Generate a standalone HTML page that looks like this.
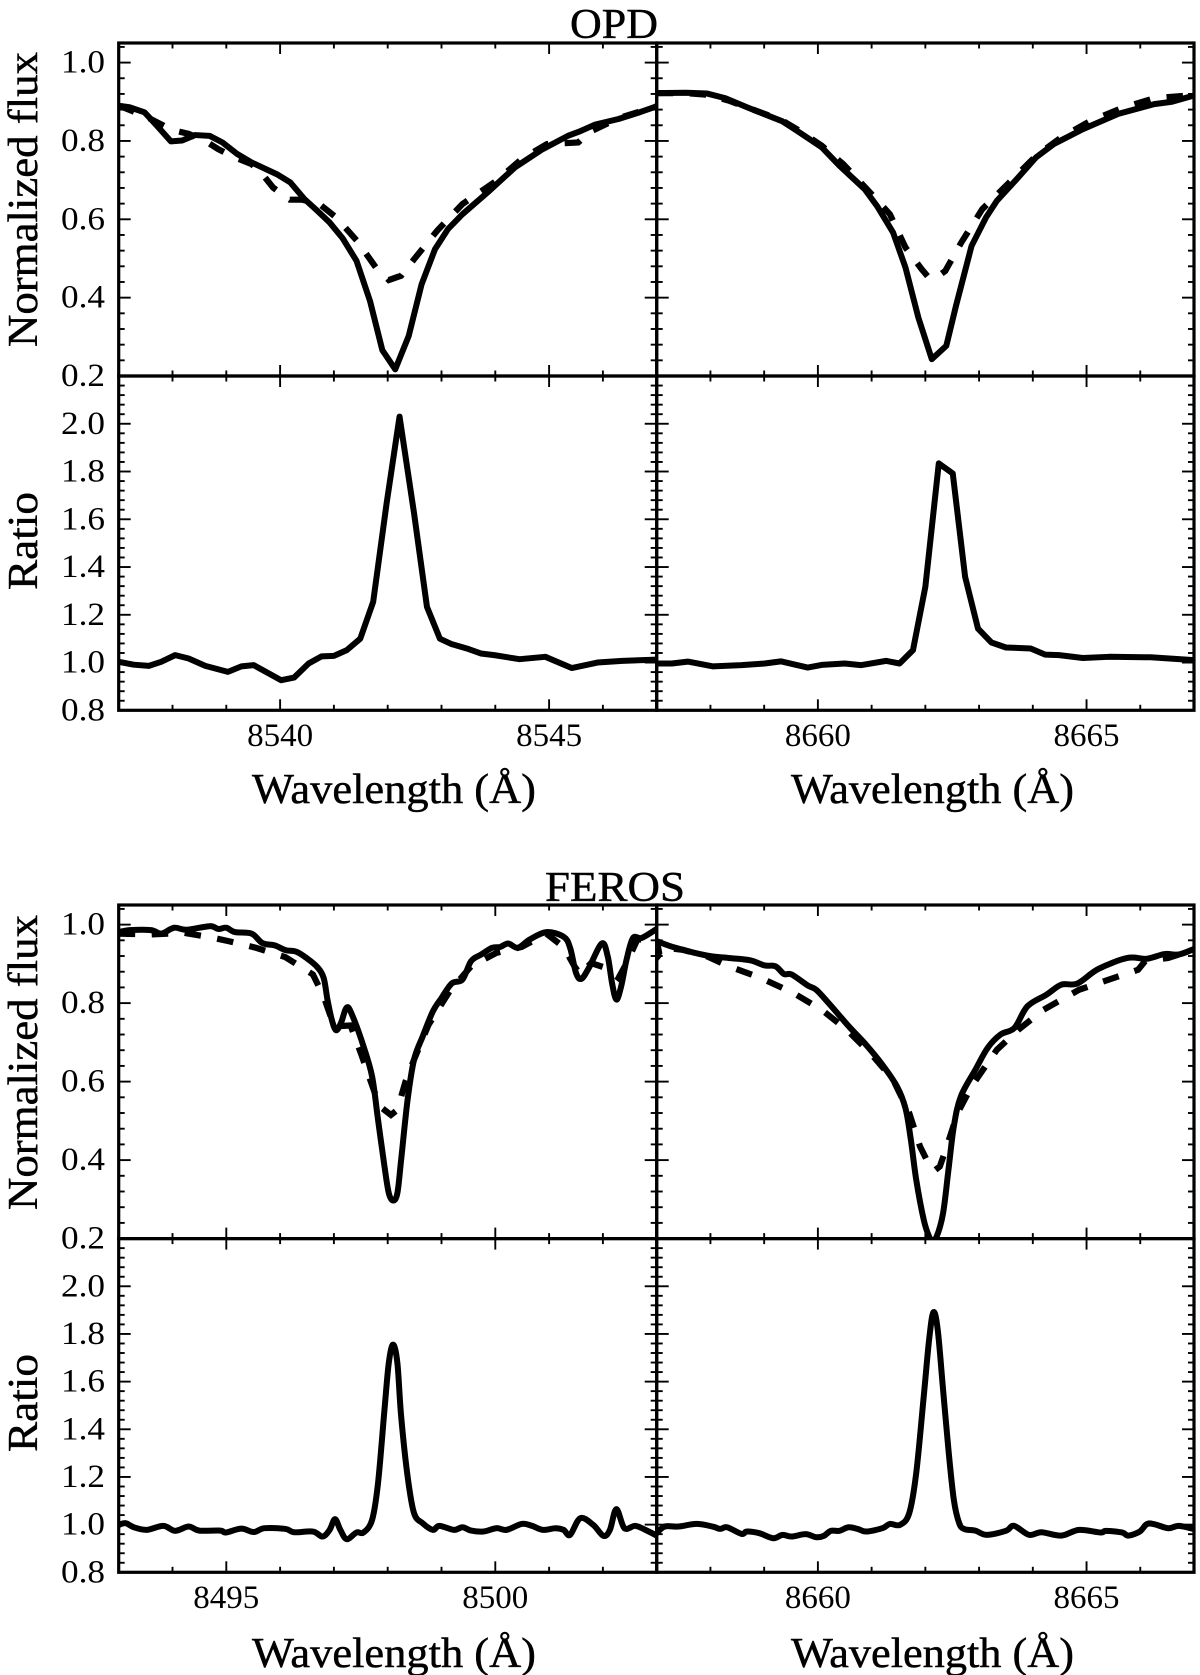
<!DOCTYPE html>
<html lang="en">
<head>
<meta charset="utf-8">
<title>OPD and FEROS line profiles</title>
<style>
  html, body { margin: 0; padding: 0; background: #fff; }
  svg { display: block; }
  text { font-family: "Liberation Serif", "DejaVu Serif", serif; fill: #000; }
  .axis-title { stroke: #000; stroke-width: 0.45px; }
</style>
</head>
<body>
<svg id="figure" xmlns="http://www.w3.org/2000/svg" width="1200" height="1675" viewBox="0 0 1200 1675">
  <rect x="0" y="0" width="1200" height="1675" fill="#fff"/>
  <defs id="clip-defs"></defs>
  <g id="panels"></g>

  <text class="axis-title" x="570" y="38" font-size="42" textLength="88" lengthAdjust="spacingAndGlyphs">OPD</text>
  <text class="axis-title" x="545" y="901" font-size="42" textLength="140" lengthAdjust="spacingAndGlyphs">FEROS</text>

  <text class="axis-title" transform="translate(37,347) rotate(-90)" font-size="42" textLength="295" lengthAdjust="spacingAndGlyphs">Normalized flux</text>
  <text class="axis-title" transform="translate(37,590) rotate(-90)" font-size="42" textLength="98" lengthAdjust="spacingAndGlyphs">Ratio</text>
  <text class="axis-title" transform="translate(37,1210) rotate(-90)" font-size="42" textLength="295" lengthAdjust="spacingAndGlyphs">Normalized flux</text>
  <text class="axis-title" transform="translate(37,1452) rotate(-90)" font-size="42" textLength="98" lengthAdjust="spacingAndGlyphs">Ratio</text>

  <text class="axis-title" x="252" y="803" font-size="42" textLength="284" lengthAdjust="spacingAndGlyphs">Wavelength (Å)</text>
  <text class="axis-title" x="791" y="803" font-size="42" textLength="283" lengthAdjust="spacingAndGlyphs">Wavelength (Å)</text>
  <text class="axis-title" x="252" y="1667" font-size="42" textLength="284" lengthAdjust="spacingAndGlyphs">Wavelength (Å)</text>
  <text class="axis-title" x="791" y="1667" font-size="42" textLength="283" lengthAdjust="spacingAndGlyphs">Wavelength (Å)</text>
</svg>

<script>
// ---------- Tick values and labels ----------
const fluxTicks = [0.2, 0.4, 0.6, 0.8, 1.0];
const fluxTickLabels = ['0.2', '0.4', '0.6', '0.8', '1.0'];
const ratioTicks = [0.8, 1.0, 1.2, 1.4, 1.6, 1.8, 2.0];
const ratioTickLabels = ['0.8', '1.0', '1.2', '1.4', '1.6', '1.8', '2.0'];
const opdLeftTicks = [8540, 8545];
const opdLeftTickLabels = ['8540', '8545'];
const redTicks = [8660, 8665];
const redTickLabels = ['8660', '8665'];
const ferosLeftTicks = [8495, 8500];
const ferosLeftTickLabels = ['8495', '8500'];

// ---------- OPD, 8542 line ----------
const opd8542Wave = [8537,8537.2,8537.48,8537.71,8537.97,8538.18,8538.42,8538.69,8538.93,8539.2,8539.47,8539.94,8540.19,8540.45,8540.69,8540.92,8541.16,8541.42,8541.67,8541.9,8542.14,8542.39,8542.63,8542.88,8543.12,8543.39,8543.86,8544.37,8544.88,8545.35,8545.58,8545.86,8546.29,8546.68,8546.99];
const opd8542Observed = [0.890,0.886,0.873,0.839,0.799,0.801,0.815,0.813,0.796,0.767,0.745,0.715,0.694,0.652,0.622,0.592,0.552,0.494,0.392,0.266,0.217,0.302,0.434,0.524,0.575,0.613,0.669,0.733,0.779,0.813,0.825,0.842,0.856,0.873,0.888];
const opd8542ModelWave = [8537,8537.48,8537.99,8538.3,8538.61,8538.85,8539.16,8539.47,8539.67,8539.87,8540.18,8540.41,8540.73,8541.04,8541.43,8541.78,8542.02,8542.25,8542.49,8542.92,8543.39,8544.02,8544.49,8544.96,8545.54,8545.74,8546.29,8546.99];
const opd8542Model = [0.890,0.864,0.828,0.818,0.800,0.779,0.758,0.741,0.715,0.681,0.650,0.650,0.639,0.605,0.545,0.477,0.445,0.456,0.498,0.571,0.639,0.698,0.754,0.792,0.796,0.822,0.858,0.888];
const opd8542RatioWave = [8537,8537.28,8537.56,8537.79,8538.05,8538.3,8538.61,8539.03,8539.28,8539.51,8540.02,8540.26,8540.53,8540.77,8541,8541.24,8541.49,8541.73,8541.98,8542.22,8542.49,8542.73,8542.97,8543.19,8543.47,8543.73,8543.98,8544.45,8544.93,8545.42,8545.9,8546.36,8547];
const opd8542Ratio = [1.003,0.991,0.986,1.003,1.031,1.017,0.986,0.961,0.984,0.989,0.926,0.937,0.996,1.026,1.028,1.052,1.100,1.254,1.667,2.030,1.625,1.233,1.100,1.077,1.059,1.038,1.031,1.014,1.024,0.977,1.000,1.007,1.012];

// ---------- OPD, 8662 line ----------
const opd8662Wave = [8657,8657.55,8657.94,8658.28,8658.68,8659.34,8659.61,8660.07,8660.4,8660.87,8661.1,8661.4,8661.63,8661.87,8662.12,8662.39,8662.57,8662.86,8663.13,8663.33,8663.73,8664.06,8664.39,8664.93,8665.59,8666.26,8666.59,8667];
const opd8662Observed = [0.922,0.923,0.921,0.909,0.886,0.850,0.826,0.784,0.737,0.677,0.634,0.566,0.477,0.349,0.243,0.277,0.379,0.532,0.605,0.647,0.707,0.758,0.792,0.830,0.869,0.894,0.900,0.916];
const opd8662ModelWave = [8657,8657.55,8657.94,8658.34,8659.34,8659.61,8660.07,8660.47,8660.94,8661.34,8661.63,8661.93,8662.07,8662.2,8662.37,8662.67,8663.06,8663.66,8664.06,8664.53,8665.06,8665.66,8666.26,8667];
const opd8662Model = [0.922,0.922,0.918,0.903,0.852,0.830,0.788,0.741,0.673,0.613,0.528,0.473,0.450,0.451,0.468,0.541,0.626,0.707,0.762,0.809,0.850,0.884,0.909,0.917];
const opd8662RatioWave = [8657,8657.28,8657.58,8658.04,8658.58,8659.01,8659.31,8659.81,8660.07,8660.5,8660.8,8661.27,8661.52,8661.77,8662,8662.25,8662.51,8662.74,8662.98,8663.23,8663.5,8663.96,8664.23,8664.49,8664.93,8665.42,8666.19,8667];
const opd8662Ratio = [0.996,0.996,1.004,0.984,0.989,0.996,1.005,0.979,0.990,0.996,0.989,1.007,0.996,1.052,1.317,1.834,1.792,1.359,1.142,1.084,1.063,1.059,1.033,1.031,1.019,1.024,1.022,1.010];

// ---------- FEROS, 8498 line ----------
const feros8498Wave = [8493,8493.2,8493.6,8493.79,8494.03,8494.26,8494.69,8494.85,8495,8495.16,8495.47,8495.67,8495.9,8496.1,8496.3,8496.49,8496.69,8496.81,8496.88,8496.96,8497.04,8497.13,8497.24,8497.35,8497.55,8497.71,8497.82,8497.94,8498.02,8498.1,8498.18,8498.25,8498.37,8498.49,8498.65,8498.84,8499,8499.19,8499.39,8499.55,8499.74,8499.94,8500.09,8500.24,8500.42,8500.64,8500.95,8501.27,8501.39,8501.5,8501.6,8501.74,8501.98,8502.09,8502.17,8502.25,8502.34,8502.44,8502.56,8502.72,8503];
const feros8498Observed = [0.981,0.986,0.986,0.977,0.992,0.987,0.996,0.989,0.992,0.981,0.977,0.953,0.947,0.935,0.931,0.915,0.892,0.864,0.809,0.758,0.731,0.749,0.789,0.766,0.690,0.613,0.503,0.384,0.316,0.297,0.316,0.401,0.554,0.656,0.715,0.779,0.813,0.850,0.860,0.907,0.924,0.941,0.943,0.952,0.941,0.962,0.981,0.969,0.941,0.877,0.862,0.890,0.952,0.919,0.851,0.809,0.843,0.911,0.966,0.966,0.989];
const feros8498ModelWave = [8493,8493.6,8494.22,8494.77,8495.04,8495.55,8496.1,8496.61,8496.81,8496.96,8497.04,8497.31,8497.51,8497.75,8497.9,8498.06,8498.18,8498.33,8498.49,8498.76,8499.15,8499.55,8500.02,8500.49,8500.95,8501.27,8501.47,8501.58,8501.78,8502.05,8502.29,8502.44,8502.64,8503];
const feros8498Model = [0.977,0.975,0.979,0.966,0.958,0.941,0.917,0.873,0.817,0.758,0.741,0.743,0.669,0.575,0.532,0.515,0.528,0.600,0.656,0.745,0.830,0.894,0.928,0.943,0.977,0.943,0.894,0.873,0.902,0.890,0.864,0.902,0.962,0.962];
const feros8498RatioWave = [8493,8493.13,8493.28,8493.52,8493.83,8494.05,8494.3,8494.5,8494.89,8494.99,8495.28,8495.51,8495.71,8496.1,8496.26,8496.61,8496.79,8496.92,8497.02,8497.12,8497.24,8497.42,8497.55,8497.71,8497.82,8497.94,8498.02,8498.1,8498.18,8498.25,8498.37,8498.49,8498.65,8498.84,8498.96,8499.23,8499.39,8499.55,8499.78,8500.02,8500.21,8500.49,8500.68,8500.88,8501.12,8501.27,8501.39,8501.58,8501.82,8502.01,8502.13,8502.25,8502.4,8502.6,8502.79,8503];
const feros8498Ratio = [0.999,1.006,0.989,0.978,0.995,0.974,0.992,0.975,0.975,0.967,0.983,0.969,0.985,0.982,0.968,0.971,0.950,0.978,1.023,0.978,0.939,0.967,0.967,1.020,1.174,1.482,1.678,1.755,1.678,1.454,1.202,1.048,1.006,0.978,0.995,0.978,0.989,0.975,0.971,0.985,0.978,1.003,0.995,0.978,0.985,0.978,0.957,1.027,0.999,0.953,0.978,1.065,0.985,0.995,0.978,0.954];

// ---------- FEROS, 8662 line ----------
const feros8662Wave = [8657,8657.35,8657.94,8658.34,8658.74,8659.01,8659.21,8659.37,8659.51,8659.81,8659.97,8660.2,8660.44,8660.6,8660.87,8661.2,8661.47,8661.63,8661.73,8661.83,8661.97,8662.07,8662.13,8662.21,8662.33,8662.43,8662.53,8662.66,8662.93,8663.16,8663.4,8663.66,8663.9,8664.26,8664.53,8664.83,8665.22,8665.76,8666.12,8666.45,8666.72,8667];
const feros8662Observed = [0.958,0.941,0.921,0.915,0.909,0.896,0.894,0.874,0.873,0.845,0.834,0.800,0.762,0.737,0.698,0.643,0.588,0.532,0.452,0.350,0.248,0.205,0.197,0.205,0.265,0.375,0.486,0.562,0.630,0.686,0.720,0.737,0.792,0.822,0.847,0.850,0.887,0.915,0.913,0.925,0.924,0.938];
const feros8662ModelWave = [8657,8657.05,8657.15,8657.48,8657.94,8658.34,8658.94,8659.54,8660.07,8660.54,8661,8661.4,8661.7,8661.9,8662.07,8662.17,8662.27,8662.4,8662.6,8662.86,8663.33,8663.73,8664.2,8664.86,8665.59,8665.96,8666.09,8666.52,8667];
const feros8662Model = [0.962,0.924,0.941,0.936,0.919,0.894,0.864,0.826,0.783,0.732,0.669,0.605,0.520,0.435,0.388,0.373,0.384,0.435,0.520,0.588,0.681,0.732,0.783,0.834,0.868,0.885,0.907,0.915,0.936];
const feros8662RatioWave = [8657,8657.15,8657.41,8657.74,8658.04,8658.18,8658.31,8658.58,8658.68,8658.91,8659.17,8659.34,8659.51,8659.77,8659.97,8660.11,8660.24,8660.4,8660.57,8660.74,8660.9,8661.2,8661.34,8661.53,8661.7,8661.83,8661.97,8662.07,8662.15,8662.23,8662.33,8662.43,8662.53,8662.63,8662.73,8662.93,8663.14,8663.5,8663.65,8663.93,8664.16,8664.53,8664.86,8665.26,8665.36,8665.66,8665.78,8665.99,8666.12,8666.26,8666.52,8666.72,8667];
const feros8662Ratio = [0.964,0.992,0.992,1.003,0.992,0.982,0.989,0.961,0.971,0.964,0.943,0.957,0.950,0.960,0.947,0.953,0.974,0.974,0.989,0.982,0.971,0.985,1.003,0.999,1.048,1.216,1.538,1.776,1.891,1.818,1.566,1.314,1.104,1.006,0.981,0.975,0.957,0.974,0.995,0.957,0.968,0.954,0.978,0.967,0.974,0.967,0.954,0.971,1.002,1.002,0.985,0.995,0.981];

// ---------- Rendering ----------
const SVG_NS = 'http://www.w3.org/2000/svg';
const panelsRoot = document.getElementById('panels');
const clipDefs = document.getElementById('clip-defs');

const colLeft = { left: 118.7, right: 656.7 };
const colRight = { left: 656.7, right: 1194 };
const rowOpdFlux = { top: 43, bottom: 376, yMin: 0.2, yMax: 1.05, ticks: fluxTicks, labels: fluxTickLabels };
const rowOpdRatio = { top: 376, bottom: 710.3, yMin: 0.8, yMax: 2.2, ticks: ratioTicks, labels: ratioTickLabels };
const rowFerosFlux = { top: 905, bottom: 1238.6, yMin: 0.2, yMax: 1.05, ticks: fluxTicks, labels: fluxTickLabels };
const rowFerosRatio = { top: 1238.6, bottom: 1572.3, yMin: 0.8, yMax: 2.2, ticks: ratioTicks, labels: ratioTickLabels };

const panelList = [
  { name: 'opd-8542-flux', col: colLeft, row: rowOpdFlux, xMin: 8537, xMax: 8547, xTicks: opdLeftTicks, xLabels: null, yLabelsOn: true, smooth: false,
    solidX: opd8542Wave, solidY: opd8542Observed, dashX: opd8542ModelWave, dashY: opd8542Model },
  { name: 'opd-8662-flux', col: colRight, row: rowOpdFlux, xMin: 8657, xMax: 8667, xTicks: redTicks, xLabels: null, yLabelsOn: false, smooth: false,
    solidX: opd8662Wave, solidY: opd8662Observed, dashX: opd8662ModelWave, dashY: opd8662Model },
  { name: 'opd-8542-ratio', col: colLeft, row: rowOpdRatio, xMin: 8537, xMax: 8547, xTicks: opdLeftTicks, xLabels: opdLeftTickLabels, yLabelsOn: true, smooth: false,
    solidX: opd8542RatioWave, solidY: opd8542Ratio },
  { name: 'opd-8662-ratio', col: colRight, row: rowOpdRatio, xMin: 8657, xMax: 8667, xTicks: redTicks, xLabels: redTickLabels, yLabelsOn: false, smooth: false,
    solidX: opd8662RatioWave, solidY: opd8662Ratio },
  { name: 'feros-8498-flux', col: colLeft, row: rowFerosFlux, xMin: 8493, xMax: 8503, xTicks: ferosLeftTicks, xLabels: null, yLabelsOn: true, smooth: true,
    solidX: feros8498Wave, solidY: feros8498Observed, dashX: feros8498ModelWave, dashY: feros8498Model },
  { name: 'feros-8662-flux', col: colRight, row: rowFerosFlux, xMin: 8657, xMax: 8667, xTicks: redTicks, xLabels: null, yLabelsOn: false, smooth: true,
    solidX: feros8662Wave, solidY: feros8662Observed, dashX: feros8662ModelWave, dashY: feros8662Model },
  { name: 'feros-8498-ratio', col: colLeft, row: rowFerosRatio, xMin: 8493, xMax: 8503, xTicks: ferosLeftTicks, xLabels: ferosLeftTickLabels, yLabelsOn: true, smooth: true,
    solidX: feros8498RatioWave, solidY: feros8498Ratio },
  { name: 'feros-8662-ratio', col: colRight, row: rowFerosRatio, xMin: 8657, xMax: 8667, xTicks: redTicks, xLabels: redTickLabels, yLabelsOn: false, smooth: true,
    solidX: feros8662RatioWave, solidY: feros8662Ratio }
];

function svgEl(tag, parent) {
  const el = document.createElementNS(SVG_NS, tag);
  parent.appendChild(el);
  return el;
}

function linearScale(d0, d1, r0, r1) {
  return function (v) { return r0 + (v - d0) * (r1 - r0) / (d1 - d0); };
}

function linePath(xs, ys, xScale, yScale, smooth) {
  const pts = xs.map(function (x, i) { return [xScale(x), yScale(ys[i])]; });
  let d = 'M' + pts[0][0].toFixed(2) + ' ' + pts[0][1].toFixed(2);
  for (let i = 1; i < pts.length; i++) {
    if (!smooth) {
      d += 'L' + pts[i][0].toFixed(2) + ' ' + pts[i][1].toFixed(2);
    } else {
      const p0 = pts[Math.max(0, i - 2)], p1 = pts[i - 1], p2 = pts[i], p3 = pts[Math.min(pts.length - 1, i + 1)];
      const c1x = p1[0] + (p2[0] - p0[0]) / 6, c1y = p1[1] + (p2[1] - p0[1]) / 6;
      const c2x = p2[0] - (p3[0] - p1[0]) / 6, c2y = p2[1] - (p3[1] - p1[1]) / 6;
      d += 'C' + c1x.toFixed(2) + ' ' + c1y.toFixed(2) + ' ' + c2x.toFixed(2) + ' ' + c2y.toFixed(2) + ' ' + p2[0].toFixed(2) + ' ' + p2[1].toFixed(2);
    }
  }
  return d;
}

function drawTick(group, x1, y1, x2, y2, width, name) {
  const t = svgEl('line', group);
  
  
  t.setAttribute('x1', x1);
  t.setAttribute('y1', y1);
  t.setAttribute('x2', x2);
  t.setAttribute('y2', y2);
  t.setAttribute('stroke', '#000');
  t.setAttribute('stroke-width', width);
}

function drawSeries(group, clipId, d, name, dashed) {
  const p = svgEl('path', group);
  
  
  p.setAttribute('d', d);
  p.setAttribute('fill', 'none');
  p.setAttribute('stroke', '#000');
  p.setAttribute('clip-path', 'url(#' + clipId + ')');
  p.setAttribute('stroke-width', dashed ? '6.2' : '6');
  if (dashed) {
    p.setAttribute('stroke-dasharray', '16.5 16.5');
  } else {
    p.setAttribute('stroke-linejoin', 'round');
    p.setAttribute('stroke-linecap', 'round');
  }
}

panelList.forEach(function (cfg) {
  const L = cfg.col.left, R = cfg.col.right, T = cfg.row.top, B = cfg.row.bottom;
  const xScale = linearScale(cfg.xMin, cfg.xMax, L, R);
  const yScale = linearScale(cfg.row.yMin, cfg.row.yMax, B, T);
  const clipId = 'clip-' + cfg.name;

  const clip = svgEl('clipPath', clipDefs);
  clip.setAttribute('id', clipId);
  const clipRect = svgEl('rect', clip);
  clipRect.setAttribute('x', L);
  clipRect.setAttribute('y', T);
  clipRect.setAttribute('width', R - L);
  clipRect.setAttribute('height', B - T);

  const g = svgEl('g', panelsRoot);
  
  

  // series
  if (cfg.dashX) {
    drawSeries(g, clipId, linePath(cfg.dashX, cfg.dashY, xScale, yScale, false), cfg.name + '-model-line', true);
  }
  drawSeries(g, clipId, linePath(cfg.solidX, cfg.solidY, xScale, yScale, cfg.smooth), cfg.name + '-observed-line', false);

  // x ticks: major every 5 A, minor every 1 A
  for (let w = cfg.xMin + 1; w < cfg.xMax; w++) {
    const major = cfg.xTicks.indexOf(w) >= 0;
    const len = major ? 11 : 5.5;
    const x = xScale(w);
    drawTick(g, x, T, x, T + len, 1.9, cfg.name + '-x-tick-top');
    drawTick(g, x, B, x, B - len, 1.9, cfg.name + '-x-tick-bottom');
  }

  // y ticks: major every 0.2, minor every 0.04
  const firstTick = cfg.row.ticks[0];
  for (let k = 0; ; k++) {
    const v = firstTick + k * 0.04;
    if (v > cfg.row.yMax - 0.005) break;
    if (k === 0) continue;
    const major = k % 5 === 0;
    const len = major ? 12 : 6;
    const y = yScale(v);
    drawTick(g, L, y, L + len, y, 1.9, cfg.name + '-y-tick-left');
    drawTick(g, R, y, R - len, y, 1.9, cfg.name + '-y-tick-right');
  }

  // frame
  const frame = svgEl('rect', g);
  
  
  frame.setAttribute('x', L);
  frame.setAttribute('y', T);
  frame.setAttribute('width', R - L);
  frame.setAttribute('height', B - T);
  frame.setAttribute('fill', 'none');
  frame.setAttribute('stroke', '#000');
  frame.setAttribute('stroke-width', '3.2');

  // tick labels
  if (cfg.yLabelsOn) {
    cfg.row.ticks.forEach(function (v, i) {
      const t = svgEl('text', g);
      
      
      t.setAttribute('x', 105);
      t.setAttribute('y', yScale(v) + 10);
      t.setAttribute('font-size', '33');
      t.setAttribute('text-anchor', 'end');
      t.setAttribute('textLength', '44');
      t.setAttribute('lengthAdjust', 'spacingAndGlyphs');
      t.textContent = cfg.row.labels[i];
    });
  }
  if (cfg.xLabels) {
    cfg.xTicks.forEach(function (w, i) {
      const t = svgEl('text', g);
      
      
      t.setAttribute('x', xScale(w) - 33);
      t.setAttribute('y', B + 35.5);
      t.setAttribute('font-size', '33');
      t.setAttribute('textLength', '66');
      t.setAttribute('lengthAdjust', 'spacingAndGlyphs');
      t.textContent = cfg.xLabels[i];
    });
  }
});
</script>
</body>
</html>
